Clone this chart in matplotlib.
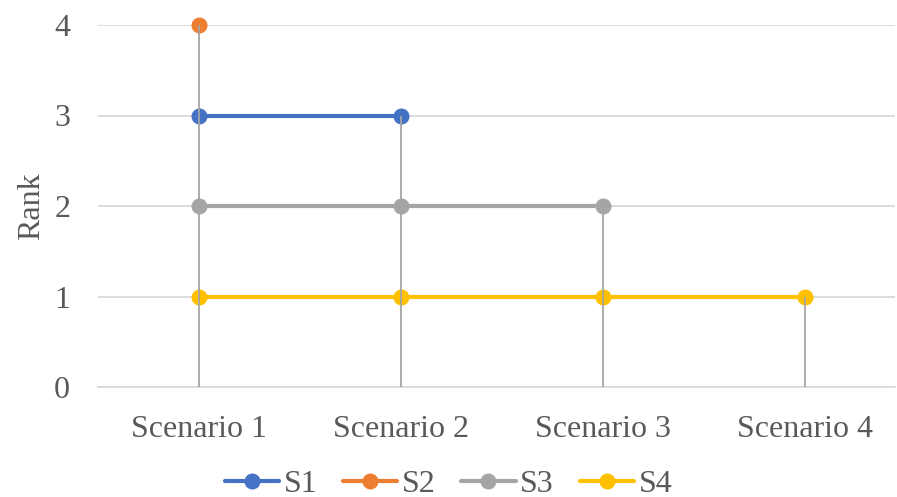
import numpy as np
import matplotlib
matplotlib.use("Agg")
import matplotlib.pyplot as plt

categories = ["Scenario 1", "Scenario 2", "Scenario 3", "Scenario 4"]
s1 = [3, 3, np.nan, np.nan]
s2 = [4, np.nan, np.nan, np.nan]
s3 = [2, 2, 2, np.nan]
s4 = [1, 1, 1, 1]
names = ["S1", "S2", "S3", "S4"]
colors = ["#4472C4", "#ED7D31", "#A5A5A5", "#FFC000"]
yticks = [0, 1, 2, 3, 4]

plt.rcParams['font.family'] = ['Liberation Serif', 'DejaVu Serif']
txt = "#595959"
fs = 23

fig = plt.figure(figsize=(8.97, 4.97), dpi=100)
ax = fig.add_axes([98/897, 1 - 387/497, 797/897, 362/497])

x = np.arange(len(categories))
series = [s1, s2, s3, s4]
for vals, name, c in zip(series, names, colors):
    ax.plot(x, vals, color=c, lw=3, marker="o", markersize=10.5, label=name,
            solid_capstyle="round", zorder=3, clip_on=False)

# drop lines from the highest point down to the axis
top = np.nanmax(np.array(series, dtype=float), axis=0)
ax.vlines(x, 0, top, color="#A5A5A5", lw=1.3, zorder=4)

ax.set_xlim(-0.5, -0.5 + 797/202)
ax.set_ylim(0, 4)
ax.set_yticks(yticks)
ax.set_xticks(x)
ax.set_xticklabels(categories)
ax.tick_params(length=0, labelsize=fs, colors=txt, pad=20)
ax.tick_params(axis="y", pad=20)
ax.grid(axis="y", color="#D9D9D9", lw=1.3)
ax.set_axisbelow(True)
for sp in ["top", "right", "left"]:
    ax.spines[sp].set_visible(False)
ax.spines["bottom"].set_color("#D9D9D9")
ax.spines["bottom"].set_linewidth(1.3)
ax.set_ylabel("Rank", fontsize=fs, color=txt, labelpad=6)

fig.legend(loc="center", bbox_to_anchor=(0.5, 1 - 484/497), ncol=4, frameon=False,
           fontsize=fs, labelcolor=txt, handlelength=1.7, handletextpad=0.15,
           columnspacing=0.8)

fig.savefig("out.png", dpi=100)
